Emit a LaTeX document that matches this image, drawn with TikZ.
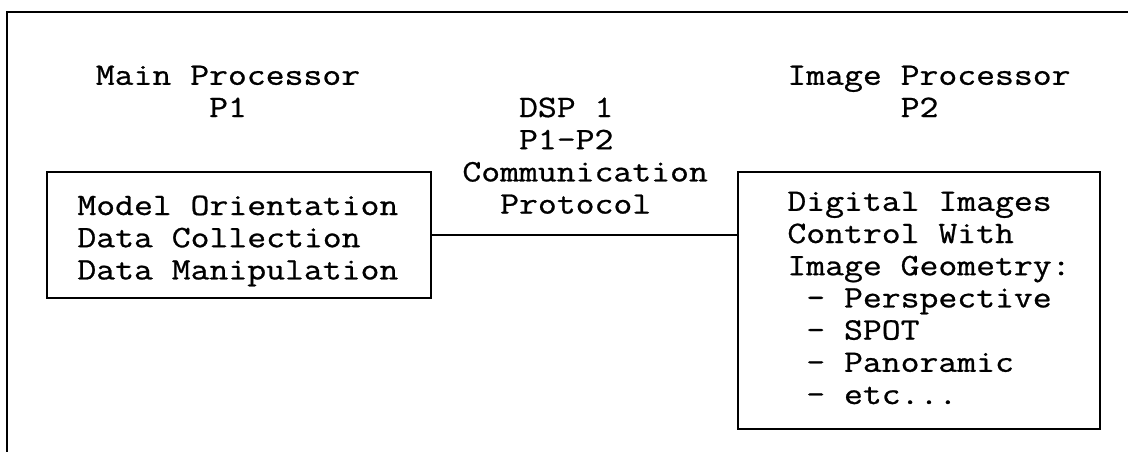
\documentclass[tikz,border=0pt]{standalone}
\usepackage{fontspec}
\setmonofont[FakeStretch=1.175, FakeBold=0.8]{Latin Modern Mono}

\begin{document}
\begin{tikzpicture}[
    x=0.5pt, y=-0.5pt,
    % Node styles
    procbox/.style={rectangle, draw=black, line width=1pt, inner sep=0pt, anchor=north west},
    caption/.style={font=\fontsize{15.6}{16.1}\selectfont\ttfamily, inner sep=0pt,
                    align=left, anchor=base west},
    link/.style={line width=0.9pt}
]
\useasboundingbox (0,0) rectangle (1128,452);

% Page frame
\draw[line width=1.2pt] (1128,12) -| (7,452);

% Column headings (anchored on the baseline of their last line)
\node (mainhead) [caption, align=center, anchor=base] at (228,117) {Main Processor\\P1};
\node (imghead) [caption] at (787,117) {Image Processor\\\hphantom{Image }P2};
\node (dsp) [caption] at (462,213.6)
    {\hphantom{Com}DSP 1\\\hphantom{Com}P1-P2\\Communication\\\hphantom{Co}Protocol};

% Processor boxes
\node (p1box) [procbox, minimum width=192pt, minimum height=63pt] at (46,171) {};
\node (p2box) [procbox, minimum width=181pt, minimum height=128.5pt] at (737,171) {};

\node (p1text) [caption] at (77,279.4)
    {Model Orientation\\Data Collection\\Data Manipulation};
\node (p2text) [caption] at (787,404)
    {Digital Images\\Control With\\Image Geometry:\\\hphantom{I}- Perspective\\
     \hphantom{I}- SPOT\\\hphantom{I}- Panoramic\\\hphantom{I}- etc...};

% DSP link
\draw [link] (p1box.east) -- (p1box.east -| p2box.west);

\end{tikzpicture}
\end{document}
